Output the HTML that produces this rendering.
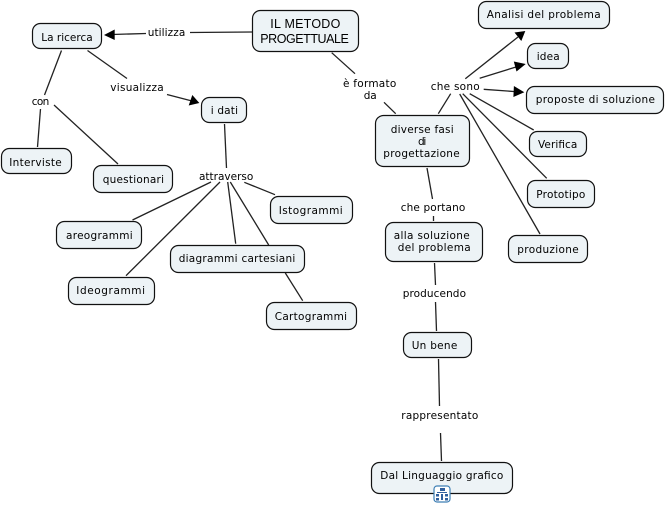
<!DOCTYPE html>
<html><head><meta charset="utf-8">
<style>
html,body{margin:0;padding:0;background:#fff;width:666px;height:505px;overflow:hidden}
svg{display:block}
text{font-family:"DejaVu Sans",sans-serif;font-size:10.5px;fill:#000}
.t{font-family:"Liberation Sans",sans-serif;font-size:12.5px}
.n rect{fill:#edf3f6;stroke:#111;stroke-width:1.2}
.l line{stroke:#222;stroke-width:1.3}
</style></head><body>
<svg width="666" height="505" viewBox="0 0 666 505" xmlns="http://www.w3.org/2000/svg">
<rect width="666" height="505" fill="#fff"/>
<g class="l">
<line x1="252" y1="32" x2="190" y2="32.5"/>
<line x1="146" y1="33.5" x2="112" y2="34.5"/>
<line x1="87.5" y1="50.5" x2="127" y2="78.5"/>
<line x1="167" y1="94.5" x2="192" y2="101"/>
<line x1="61.5" y1="50.5" x2="44.5" y2="95"/>
<line x1="40.5" y1="109" x2="37.5" y2="147"/>
<line x1="54" y1="105" x2="118" y2="164"/>
<line x1="224.5" y1="124" x2="226.5" y2="168"/>
<line x1="211" y1="182" x2="132.5" y2="220"/>
<line x1="220" y1="182" x2="126" y2="275.7"/>
<line x1="227.7" y1="182" x2="235.7" y2="243.7"/>
<line x1="230.3" y1="182" x2="268.7" y2="245"/>
<line x1="244.3" y1="182.3" x2="275" y2="194.7"/>
<line x1="285.3" y1="273" x2="302.7" y2="300.7"/>
<line x1="331.7" y1="52.7" x2="355" y2="73.7"/>
<line x1="384" y1="102.3" x2="395.7" y2="113.7"/>
<line x1="438.3" y1="113.7" x2="450.7" y2="93.7"/>
<line x1="465.3" y1="78.7" x2="518" y2="37"/>
<line x1="479.7" y1="78.3" x2="516" y2="67"/>
<line x1="483.7" y1="89.3" x2="515" y2="91.6"/>
<line x1="469.7" y1="93.7" x2="533.7" y2="130"/>
<line x1="462.7" y1="93.7" x2="546.7" y2="178.3"/>
<line x1="459.7" y1="94" x2="540" y2="234"/>
<line x1="427" y1="168" x2="432.5" y2="199"/>
<line x1="433.5" y1="216" x2="433.5" y2="221"/>
<line x1="434.5" y1="263" x2="435.5" y2="285"/>
<line x1="435.5" y1="302" x2="436.5" y2="331"/>
<line x1="438.5" y1="359" x2="439.5" y2="406"/>
<line x1="440.5" y1="433" x2="441.5" y2="461"/>
</g>
<g fill="#000">
<polygon points="104,35 114.7,29.5 114.7,40"/>
<polygon points="199.3,103 188.7,105.5 192.3,95"/>
<polygon points="525.3,31 521.3,41 514.5,32.5"/>
<polygon points="525.7,64 516.5,71.5 513.8,61.5"/>
<polygon points="524.3,92.3 513.4,97 513.9,86"/>
</g>
<g class="n">
<rect x="252.5" y="10.5" width="106" height="41" rx="8"/>
<rect x="32.5" y="23.5" width="69" height="25" rx="8"/>
<rect x="201.5" y="97.5" width="45" height="25" rx="8"/>
<rect x="1.5" y="148.5" width="70" height="25" rx="8"/>
<rect x="93.5" y="165.5" width="79" height="27" rx="8"/>
<rect x="56.5" y="221.5" width="85" height="27" rx="8"/>
<rect x="270.5" y="196.5" width="82" height="27" rx="8"/>
<rect x="170.5" y="245.5" width="134" height="27" rx="8"/>
<rect x="68.5" y="277.5" width="86" height="27" rx="8"/>
<rect x="266.5" y="302.5" width="90" height="27" rx="8"/>
<rect x="478.5" y="1.5" width="131" height="27" rx="8"/>
<rect x="527.5" y="43.5" width="41" height="25" rx="8"/>
<rect x="526.5" y="86.5" width="137" height="27" rx="8"/>
<rect x="529.5" y="131.5" width="57" height="25" rx="8"/>
<rect x="527.5" y="180.5" width="67" height="27" rx="8"/>
<rect x="508.5" y="235.5" width="79" height="27" rx="8"/>
<rect x="375.5" y="115.5" width="94" height="51" rx="8"/>
<rect x="385.5" y="222.5" width="97" height="39" rx="8"/>
<rect x="403.5" y="332.5" width="68" height="25" rx="8"/>
<rect x="371.5" y="462.5" width="141" height="31" rx="8"/>
</g>
<text class="t" x="270.3" y="28" textLength="70" lengthAdjust="spacing">IL METODO</text>
<text class="t" x="260.3" y="43" textLength="88.5" lengthAdjust="spacing">PROGETTUALE</text>
<text x="147.7" y="36" textLength="37.6">utilizza</text>
<text x="41.3" y="41" textLength="51.4">La ricerca</text>
<text x="110.3" y="91" textLength="53.4">visualizza</text>
<text x="31.7" y="105" textLength="17.6">con</text>
<text x="210.7" y="114" textLength="27.3">i dati</text>
<text x="9.3" y="166" textLength="52.4">Interviste</text>
<text x="102.7" y="183" textLength="61.3">questionari</text>
<text x="199" y="180" textLength="54.3">attraverso</text>
<text x="66" y="239" textLength="66.7">areogrammi</text>
<text x="278.7" y="214" textLength="64">Istogrammi</text>
<text x="178.7" y="262" textLength="116.6">diagrammi cartesiani</text>
<text x="76.3" y="294" textLength="68.7">Ideogrammi</text>
<text x="274.7" y="320" textLength="72.3">Cartogrammi</text>
<text x="486.7" y="18" textLength="114">Analisi del problema</text>
<text x="536.7" y="60" textLength="23">idea</text>
<text x="535.7" y="103" textLength="119.3">proposte di soluzione</text>
<text x="538" y="148" textLength="39.3">Verifica</text>
<text x="536.3" y="198" textLength="49">Prototipo</text>
<text x="517.3" y="253" textLength="61.4">produzione</text>
<text x="343" y="87" textLength="53.3">è formato</text>
<text x="363.7" y="99" textLength="13">da</text>
<text x="430.7" y="90" textLength="49">che sono</text>
<text x="390.7" y="133" textLength="63">diverse fasi</text>
<text x="418" y="145" textLength="8.3">di</text>
<text x="383.3" y="157" textLength="76.4">progettazione</text>
<text x="400.7" y="211" textLength="64.6">che portano</text>
<text x="393.7" y="239" textLength="76">alla soluzione</text>
<text x="397.7" y="251" textLength="73">del problema</text>
<text x="402.7" y="297" textLength="63.3">producendo</text>
<text x="411.7" y="349" textLength="45.6">Un bene</text>
<text x="401.3" y="419" textLength="77">rappresentato</text>
<text x="380.3" y="479" textLength="123">Dal Linguaggio grafico</text>
<g>
<rect x="434" y="486" width="16" height="16" rx="3" fill="#fff" stroke="#3d7fb5" stroke-width="1.2"/>
<g fill="#2f5f9e">
<rect x="440" y="488" width="5" height="3"/>
<rect x="436" y="494" width="3" height="2.5"/>
<rect x="445" y="494" width="3" height="2.5"/>
<rect x="436" y="498" width="3" height="2.5"/>
<rect x="445" y="498" width="3" height="2.5"/>
<rect x="441" y="494" width="2" height="6"/>
<rect x="437" y="492" width="10" height="1"/>
</g>
</g>
</svg>
</body></html>
